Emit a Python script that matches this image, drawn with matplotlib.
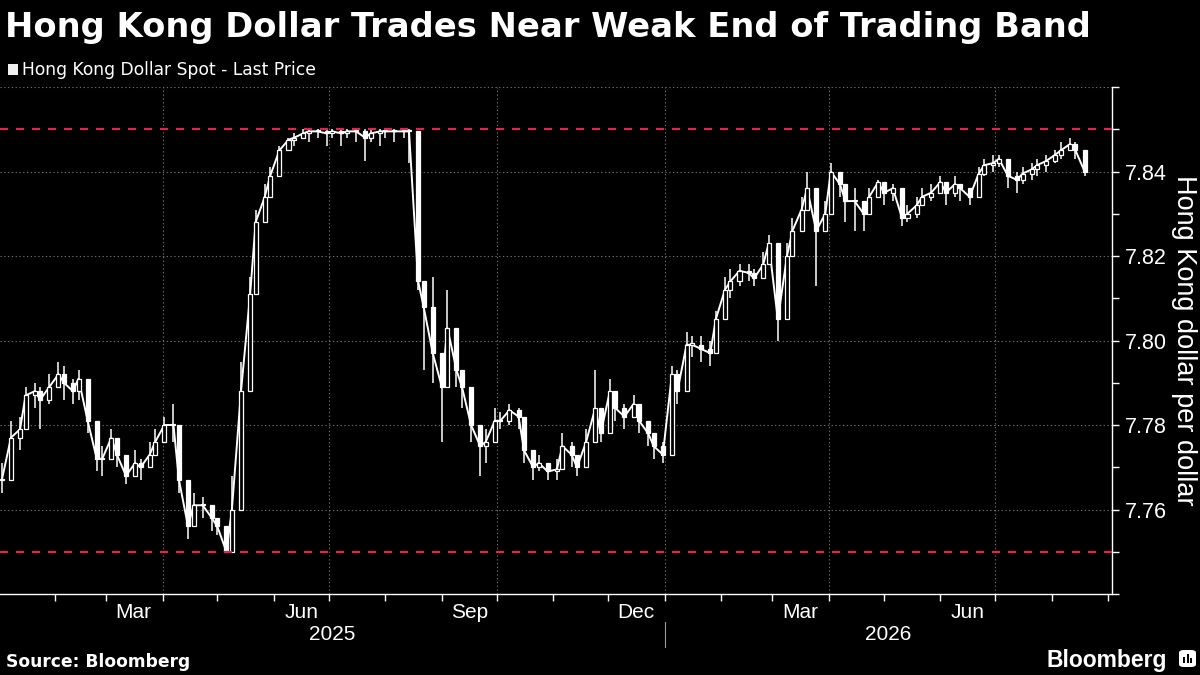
import matplotlib
matplotlib.use("Agg")
import matplotlib.pyplot as plt
import matplotlib.dates as mdates
from matplotlib.patches import Rectangle, FancyBboxPatch
from matplotlib.transforms import blended_transform_factory
import pandas as pd

# ---------------- data ----------------
TITLE = "Hong Kong Dollar Trades Near Weak End of Trading Band"
SERIES_NAME = "Hong Kong Dollar Spot - Last Price"
Y_LABEL = "Hong Kong dollar per dollar"
SOURCE = "Source: Bloomberg"
BRAND = "Bloomberg"

start_date = "2025-01-03"
step = "3B"  # one candle every three business days

close = [
    7.767, 7.777, 7.779, 7.787, 7.788, 7.786, 7.789, 7.792, 7.790, 7.788,
    7.791, 7.781, 7.772, 7.772, 7.777, 7.773, 7.768, 7.771, 7.770, 7.773,
    7.776, 7.780, 7.780, 7.767, 7.756, 7.761, 7.761, 7.758, 7.756, 7.750,
    7.760, 7.788, 7.811, 7.828, 7.834, 7.839, 7.845, 7.8475, 7.848, 7.849,
    7.8495, 7.8495, 7.849, 7.8495, 7.849, 7.8495, 7.8495, 7.848, 7.849, 7.8495,
    7.8495, 7.8495, 7.8495, 7.8495, 7.814, 7.808, 7.797, 7.789, 7.803, 7.793,
    7.789, 7.780, 7.775, 7.776, 7.781, 7.781, 7.7835, 7.782, 7.774, 7.770,
    7.771, 7.769, 7.7695, 7.775, 7.773, 7.770, 7.776, 7.784, 7.778, 7.788,
    7.784, 7.782, 7.785, 7.781, 7.778, 7.775, 7.773, 7.792, 7.788, 7.799,
    7.799, 7.798, 7.797, 7.805, 7.812, 7.814, 7.8165, 7.816, 7.8147, 7.818,
    7.823, 7.805, 7.820, 7.826, 7.831, 7.836, 7.826, 7.830, 7.840, 7.837,
    7.833, 7.833, 7.830, 7.834, 7.8375, 7.835, 7.836, 7.829, 7.830, 7.832,
    7.834, 7.835, 7.8375, 7.835, 7.837, 7.836, 7.834, 7.8395, 7.8415, 7.842,
    7.843, 7.839, 7.838, 7.8395, 7.8405, 7.8415, 7.8425, 7.844, 7.845, 7.8465,
    7.845, 7.840,
]
low = [
    7.764, 7.772, 7.774, 7.782, 7.784, 7.779, 7.785, 7.789, 7.786, 7.785,
    7.786, 7.778, 7.769, 7.768, 7.772, 7.770, 7.766, 7.768, 7.767, 7.771,
    7.773, 7.777, 7.776, 7.764, 7.753, 7.757, 7.758, 7.755, 7.754, 7.750,
    7.750, 7.776, 7.803, 7.820, 7.829, 7.834, 7.843, 7.845, 7.846, 7.848,
    7.847, 7.848, 7.846, 7.848, 7.846, 7.848, 7.847, 7.8425, 7.847, 7.846,
    7.848, 7.847, 7.848, 7.842, 7.812, 7.793, 7.790, 7.776, 7.798, 7.789,
    7.784, 7.776, 7.768, 7.771, 7.778, 7.779, 7.780, 7.779, 7.771, 7.767,
    7.769, 7.767, 7.767, 7.772, 7.770, 7.768, 7.773, 7.780, 7.776, 7.784,
    7.781, 7.779, 7.782, 7.778, 7.775, 7.772, 7.771, 7.780, 7.785, 7.795,
    7.796, 7.795, 7.794, 7.801, 7.809, 7.810, 7.813, 7.814, 7.813, 7.815,
    7.819, 7.800, 7.815, 7.823, 7.828, 7.833, 7.813, 7.826, 7.836, 7.834,
    7.828, 7.826, 7.826, 7.831, 7.835, 7.832, 7.833, 7.827, 7.828, 7.829,
    7.832, 7.833, 7.835, 7.832, 7.834, 7.833, 7.832, 7.837, 7.839, 7.840,
    7.841, 7.836, 7.835, 7.837, 7.838, 7.839, 7.840, 7.842, 7.843, 7.845,
    7.843, 7.839,
]
high = [
    7.771, 7.781, 7.782, 7.789, 7.790, 7.789, 7.792, 7.795, 7.794, 7.791,
    7.793, 7.789, 7.777, 7.775, 7.779, 7.777, 7.772, 7.774, 7.772, 7.776,
    7.779, 7.782, 7.785, 7.775, 7.762, 7.764, 7.763, 7.761, 7.758, 7.752,
    7.768, 7.795, 7.815, 7.831, 7.837, 7.841, 7.846, 7.848, 7.849, 7.850,
    7.850, 7.850, 7.850, 7.850, 7.850, 7.850, 7.850, 7.850, 7.850, 7.850,
    7.850, 7.850, 7.850, 7.850, 7.835, 7.812, 7.815, 7.792, 7.812, 7.802,
    7.792, 7.782, 7.779, 7.779, 7.784, 7.783, 7.785, 7.784, 7.778, 7.773,
    7.773, 7.771, 7.772, 7.778, 7.776, 7.772, 7.779, 7.793, 7.784, 7.791,
    7.786, 7.785, 7.787, 7.784, 7.781, 7.777, 7.776, 7.794, 7.793, 7.802,
    7.801, 7.801, 7.800, 7.807, 7.815, 7.817, 7.818, 7.818, 7.817, 7.821,
    7.825, 7.822, 7.823, 7.829, 7.834, 7.840, 7.834, 7.833, 7.842, 7.839,
    7.836, 7.836, 7.833, 7.836, 7.838, 7.837, 7.837, 7.832, 7.832, 7.834,
    7.836, 7.837, 7.839, 7.837, 7.839, 7.837, 7.836, 7.841, 7.843, 7.844,
    7.844, 7.842, 7.840, 7.841, 7.842, 7.843, 7.844, 7.845, 7.847, 7.848,
    7.847, 7.842,
]

band_weak = 7.85
band_strong = 7.75
y_min, y_max = 7.74, 7.86
y_ticks = [7.76, 7.78, 7.80, 7.82, 7.84]
y_minor = [7.74, 7.75, 7.77, 7.79, 7.81, 7.83, 7.85, 7.86]
y_grid = [7.76, 7.78, 7.80, 7.82, 7.84, 7.86]
x_start, x_end = "2025-01-02", "2026-09-03"
month_label_dates = ["2025-03-01", "2025-06-01", "2025-09-01", "2025-12-01",
                     "2026-03-01", "2026-06-01"]
month_label_texts = ["Mar", "Jun", "Sep", "Dec", "Mar", "Jun"]
grid_dates = ["2025-04-01", "2025-07-01", "2025-10-01", "2026-01-01",
              "2026-04-01", "2026-07-01"]
years = ["2025", "2026"]
year_bounds = ["2025-01-02", "2026-01-01", "2026-09-03"]

# ---------------- style ----------------
BG = "black"
FG = "white"
GRID = "#6e6e6e"
RED = "#e0244f"
plt.rcParams["font.family"] = ["Liberation Sans", "DejaVu Sans"]

W, H = 1200, 675
fig = plt.figure(figsize=(12, 6.75), dpi=100, facecolor=BG)
ax_l, ax_r, ax_t, ax_b = 0, 1112, 87, 594
ax = fig.add_axes([ax_l / W, 1 - ax_b / H, (ax_r - ax_l) / W, (ax_b - ax_t) / H])
ax.set_facecolor(BG)

dates = pd.date_range(start_date, periods=len(close), freq=step)
xs = mdates.date2num(dates.to_pydatetime())
opens = [close[0]] + close[:-1]

# candles (open = previous close) with wicks, joined by a thin close line
width = 2.2
ax.plot(xs, close, color=FG, lw=1.4, zorder=3, solid_joinstyle="miter")
ax.vlines(xs, low, high, color=FG, lw=1.1, zorder=3)
for x, o, c in zip(xs, opens, close):
    lo_b, hi_b = min(o, c), max(o, c)
    h = max(hi_b - lo_b, 0.0003)
    up = c >= o
    ax.add_patch(Rectangle((x - width / 2, lo_b), width, h,
                           facecolor=BG if up else FG, edgecolor=FG,
                           lw=0.9, zorder=4))

# band lines
for lvl in (band_weak, band_strong):
    ax.axhline(lvl, color=RED, lw=1.6, dashes=(3.6, 3.6), zorder=5)

# grid
for g in y_grid:
    ax.axhline(g, color=GRID, lw=0.8, ls=(0, (1.2, 2.2)), zorder=1)
for d in grid_dates:
    ax.axvline(mdates.datestr2num(d), color=GRID, lw=0.8, ls=(0, (1.2, 2.2)), zorder=1)

ax.set_xlim(mdates.datestr2num(x_start), mdates.datestr2num(x_end))
ax.set_ylim(y_min, y_max)

# spines
for s in ("left", "top"):
    ax.spines[s].set_visible(False)
for s in ("right", "bottom"):
    ax.spines[s].set_color(FG)
    ax.spines[s].set_linewidth(1.0)

# y axis on the right
ax.yaxis.tick_right()
ax.set_yticks(y_ticks)
ax.set_yticklabels([f"{v:.2f}" for v in y_ticks])
ax.set_yticks(y_minor, minor=True)
ax.tick_params(axis="y", which="major", colors=FG, labelsize=15.5, length=5,
               width=1, pad=4, direction="out")
ax.tick_params(axis="y", which="minor", colors=FG, length=5, width=1, direction="out")
ax.yaxis.set_label_position("right")
ax.set_ylabel(Y_LABEL, color=FG, fontsize=19.5, rotation=270, va="center")
ax.yaxis.set_label_coords(1.065, 0.5)

# x axis: ticks at month starts, labels mid-month
ax.xaxis.set_major_locator(mdates.MonthLocator())
ax.xaxis.set_major_formatter(plt.NullFormatter())
ax.tick_params(axis="x", which="major", colors=FG, length=5, width=1, direction="out")
for d, t in zip(month_label_dates, month_label_texts):
    xm = mdates.datestr2num(d) + 15
    ax.annotate(t, xy=(xm, 0), xycoords=("data", "axes fraction"),
                xytext=(0, -18), textcoords="offset pixels",
                ha="center", va="center", color=FG, fontsize=15)
for i, yr in enumerate(years):
    a = mdates.datestr2num(year_bounds[i])
    b = mdates.datestr2num(year_bounds[i + 1])
    ax.annotate(yr, xy=((a + b) / 2, 0), xycoords=("data", "axes fraction"),
                xytext=(0, -41), textcoords="offset pixels",
                ha="center", va="center", color=FG, fontsize=15)
sep = mdates.datestr2num(year_bounds[1])
ax.add_line(plt.Line2D([sep, sep], [-28 / (ax_b - ax_t), -53 / (ax_b - ax_t)],
                       transform=blended_transform_factory(ax.transData, ax.transAxes),
                       color="#9a9a9a", lw=0.8, clip_on=False))

# title, legend, source
fig.text(5 / W, 1 - 37 / H, TITLE, color=FG, fontsize=24.3, fontweight="bold",
         family="DejaVu Sans", va="baseline", ha="left")
fig.patches.append(Rectangle((8 / W, 1 - 75 / H), 10 / W, 11 / H,
                             transform=fig.transFigure, facecolor="#f0f0f0",
                             edgecolor="none"))
fig.text(22 / W, 1 - 75 / H, SERIES_NAME, color=FG, fontsize=12.3,
         family="DejaVu Sans", va="baseline", ha="left")
fig.text(6 / W, 1 - 667 / H, SOURCE, color=FG, fontsize=12.3, fontweight="bold",
         family="DejaVu Sans", va="baseline", ha="left")
fig.text(1167 / W, 1 - 667 / H, BRAND, color=FG, fontsize=16.5, fontweight="bold",
         va="baseline", ha="right")
# small logo icon
fig.patches.append(FancyBboxPatch((1179 / W, 1 - 667 / H), 17 / W, 17 / H,
                                  boxstyle="round,pad=0,rounding_size=0.004",
                                  transform=fig.transFigure, facecolor=FG,
                                  edgecolor="none"))
for bx, bh in ((1183, 6), (1186.5, 9), (1190, 5)):
    fig.patches.append(Rectangle((bx / W, 1 - 663 / H), 2 / W, bh / H,
                                 transform=fig.transFigure, facecolor=BG,
                                 edgecolor="none"))

fig.savefig("out.png", dpi=100, facecolor=BG)
